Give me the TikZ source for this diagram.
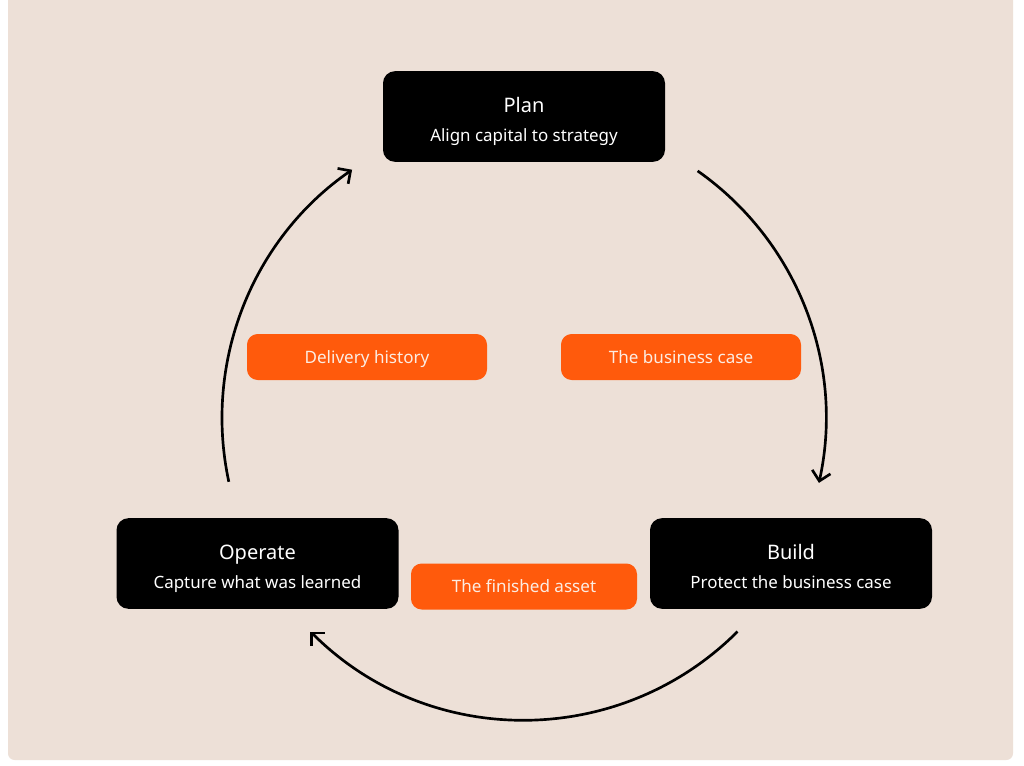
\documentclass[tikz,border=0pt]{standalone}
\usepackage{fontspec}
\setmainfont{Noto Sans}
\usetikzlibrary{arrows.meta,calc}
\definecolor{card}{RGB}{237,224,215}
\definecolor{orng}{RGB}{255,90,12}
\definecolor{cream}{RGB}{252,236,226}
\tikzset{
  stage/.style={fill=black, rounded corners=9pt, minimum width=211.5pt, minimum height=68pt, inner sep=0pt},
  stitle/.style={anchor=base, text=white, inner sep=0pt, font=\fontsize{15}{17}\selectfont},
  ssub/.style={anchor=base, text=white, inner sep=0pt, font=\fontsize{12.7}{15}\selectfont},
  tag/.style={fill=orng, rounded corners=8pt, minimum height=34.5pt, text=cream, inner sep=0pt, text height=9.1pt, text depth=0pt, font=\fontsize{12.8}{15}\selectfont},
  flow/.style={line width=2pt, -{Straight Barb[length=7pt, width=14pt, line width=2pt]}},
}
\begin{document}
\begin{tikzpicture}[x=0.75pt, y=-0.75pt]
\useasboundingbox (0,0) rectangle (1024,765);
\fill[white] (0,0) rectangle (1024,765);
\fill[card, rounded corners=5pt] (8,-10) rectangle (1013,760);

\node[stage] (plan) at (524,116.5) {};
\node[stitle] (plan-t) at ($(plan.center)+(0,-4.5)$) {Plan};
\node[ssub] (plan-s) at ($(plan.center)+(0,25)$) {Align capital to strategy};

\node[stage] (operate) at (257.5,563.5) {};
\node[stitle] (operate-t) at ($(operate.center)+(0,-4.5)$) {Operate};
\node[ssub] (operate-s) at ($(operate.center)+(0,25)$) {Capture what was learned};

\node[stage] (build) at (791,563.5) {};
\node[stitle] (build-t) at ($(build.center)+(0,-4.5)$) {Build};
\node[ssub] (build-s) at ($(build.center)+(0,25)$) {Protect the business case};

\node[tag, minimum width=180pt] (hist) at (367,357) {Delivery history};
\node[tag, minimum width=180pt] (bcase) at (681,357) {The business case};
\node[tag, minimum width=169.5pt] (asset) at (524,586.5) {The finished asset};

\coordinate (c) at (524,418);
\draw[flow] ($(c)+(-54.9:302)$) arc[start angle=-54.9, end angle=12.4, radius=302];
\draw[flow] ($(c)+(45:302)$) arc[start angle=45, end angle=135, radius=302];
\draw[flow] ($(c)+(167.8:302)$) arc[start angle=167.8, end angle=235.3, radius=302];
\end{tikzpicture}
\end{document}
